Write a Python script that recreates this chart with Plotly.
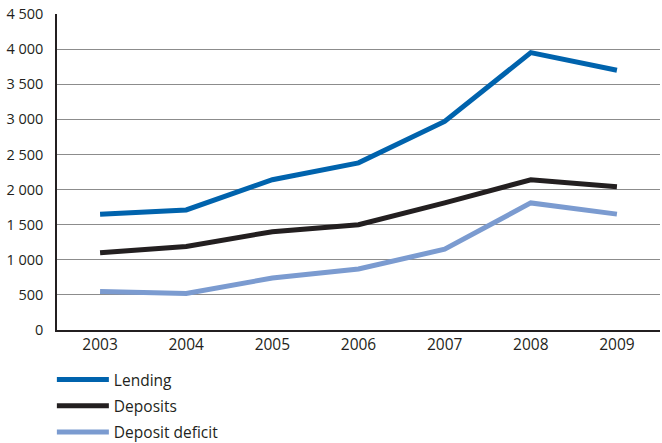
import plotly.graph_objects as go

years = ["2003", "2004", "2005", "2006", "2007", "2008", "2009"]
lending = [1650, 1710, 2140, 2380, 2970, 3950, 3700]
deposits = [1100, 1190, 1400, 1500, 1810, 2140, 2040]
deficit = [550, 520, 740, 870, 1150, 1810, 1650]

series = [
    ("Lending", lending, "#0063ad"),
    ("Deposits", deposits, "#231f20"),
    ("Deposit deficit", deficit, "#7b9bd0"),
]

fig = go.Figure()
for i, (name, vals, col) in enumerate(series):
    fig.add_trace(go.Scatter(x=years, y=vals, name=name, mode="lines",
                             legendgroup="g%d" % i,
                             line=dict(color=col, width=5)))

fam = "Open Sans, Noto Sans, sans-serif"
font = dict(family=fam, size=15.5, color="#231f20")
yfont = dict(family=fam, size=14.5, color="#231f20")
fig.update_layout(
    width=662, height=443,
    margin=dict(l=57, r=2, t=14, b=113),
    paper_bgcolor="white", plot_bgcolor="white",
    font=font,
    separators=". ",
    showlegend=True,
    legend=dict(orientation="v", x=-0.0085, xanchor="left", xref="paper",
                y=1 - 363 / 443, yanchor="top", yref="container",
                font=font, bgcolor="rgba(0,0,0,0)", tracegroupgap=3,
                itemwidth=52),
    xaxis=dict(type="category", range=[-0.5, 6.5], showgrid=False,
               showline=True, linecolor="#231f20", linewidth=1.5,
               ticks="", tickfont=font, fixedrange=True, automargin=False),
    yaxis=dict(range=[0, 4500], dtick=500, tickformat=",d",
               showgrid=True, gridcolor="#8c8c8c", gridwidth=1,
               showline=True, linecolor="#231f20", linewidth=1.5,
               ticks="", ticklabelstandoff=9, zeroline=False,
               tickfont=yfont, fixedrange=True, automargin=False),
)
fig.write_html("out.html", config={"displayModeBar": False},
               post_script="document.body.style.margin='0';document.body.style.overflow='hidden';")
